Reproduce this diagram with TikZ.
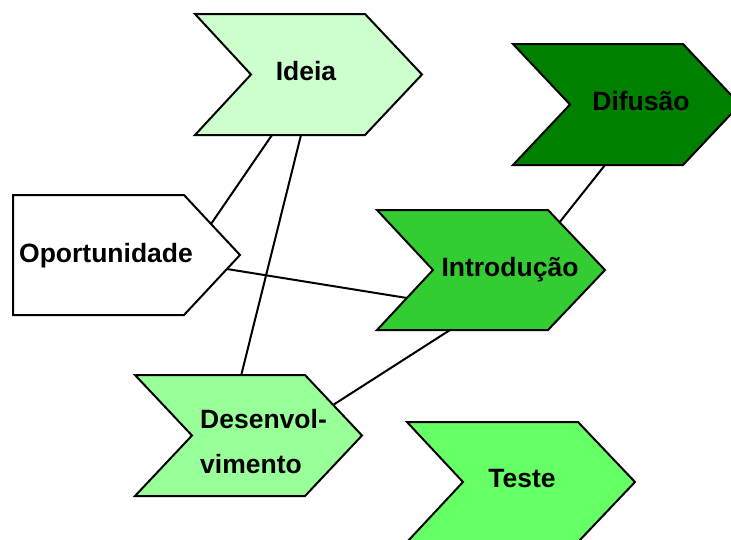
\documentclass[tikz,border=0pt]{standalone}
\usepackage{fontspec}
\setmainfont{Liberation Sans}
\begin{document}
\begin{tikzpicture}[x=1pt,y=-1pt,
  outline/.style={draw=black,line width=2pt,line join=miter},
  link/.style={draw=black,line width=2pt},
  label/.style={font=\fontsize{26.5}{45}\selectfont\bfseries,inner sep=0pt}]
\useasboundingbox (0,0) rectangle (731,539);

% connector end points on the shape edges
\coordinate (a1) at (272,135); \coordinate (a2) at (211,224);
\coordinate (b1) at (301,135); \coordinate (b2) at (241,376);
\coordinate (c1) at (227,269); \coordinate (c2) at (407,298);
\coordinate (d1) at (605,165); \coordinate (d2) at (559,223);
\coordinate (e1) at (450,330); \coordinate (e2) at (333,405);

\draw[link] (a1) -- (a2);
\draw[link] (b1) -- (b2);
\draw[link] (c1) -- (c2);
\draw[link] (d1) -- (d2);
\draw[link] (e1) -- (e2);

% chevrons
\path[outline,fill={rgb,255:red,204;green,255;blue,204}]
  (195,14) -- (365,14) -- (422,74.5) -- (365,135) -- (195,135) -- (251,74.5) -- cycle;
\path[outline,fill={rgb,255:red,0;green,128;blue,0}]
  (513,44) -- (683,44) -- (740,104.5) -- (683,165) -- (513,165) -- (570,104.5) -- cycle;
\path[outline,fill=white]
  (13,195) -- (184,195) -- (240,255) -- (184,315) -- (13,315) -- cycle;
\path[outline,fill={rgb,255:red,51;green,204;blue,51}]
  (377,210) -- (548,210) -- (605,270) -- (548,330) -- (377,330) -- (433,270) -- cycle;
\path[outline,fill={rgb,255:red,153;green,255;blue,153}]
  (135,375) -- (305,375) -- (362,435.5) -- (305,496) -- (135,496) -- (192,435.5) -- cycle;
\path[outline,fill={rgb,255:red,102;green,255;blue,102}]
  (407,422) -- (578,422) -- (635,482) -- (578,542) -- (407,542) -- (463,482) -- cycle;

% labels
\node[label,anchor=base] (ideia) at (306,80) {Ideia};
\node[label,anchor=base] (difusao) at (641,110) {Difusão};
\node[label,anchor=base] (oport) at (106,262) {Oportunidade};
\node[label,anchor=base] (intro) at (510,276) {Introdução};
\node[label,anchor=base west,align=left] (desenv) at (200,473) {Desenvol-\\vimento};
\node[label,anchor=base] (teste) at (522,487) {Teste};
\end{tikzpicture}
\end{document}
